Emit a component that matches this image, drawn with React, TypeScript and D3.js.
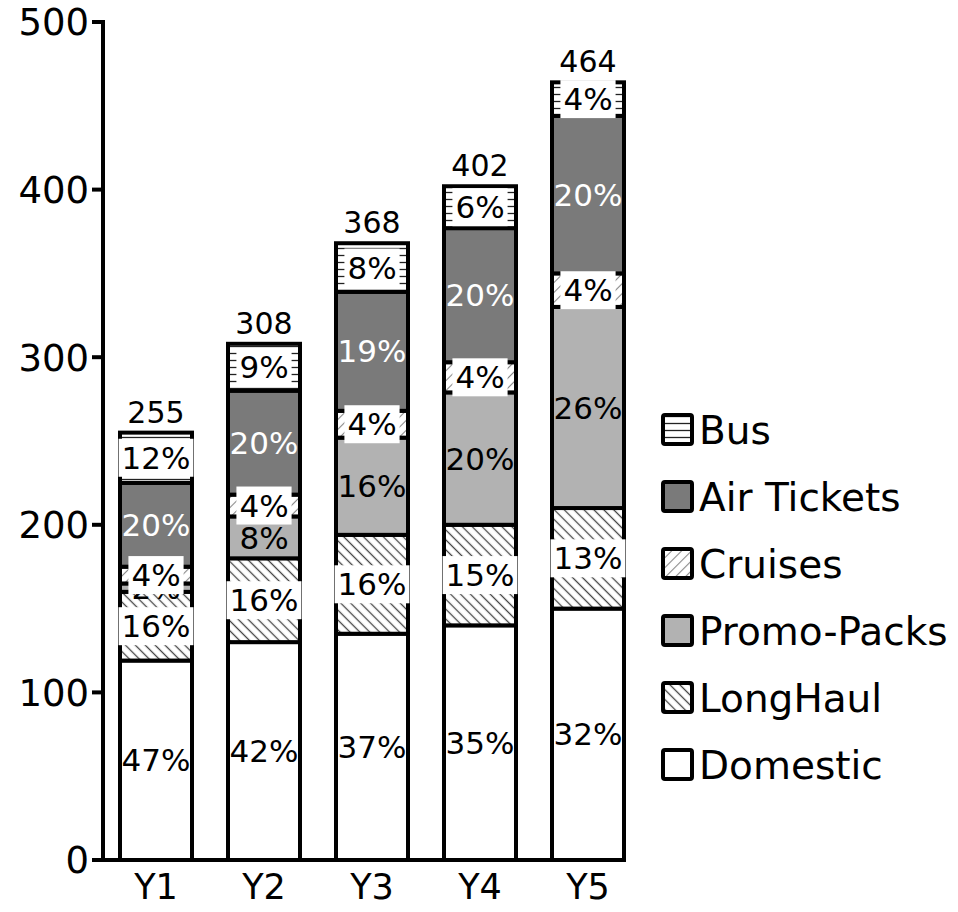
import React from "react";
import * as d3 from "d3";

const categories = ["Y1", "Y2", "Y3", "Y4", "Y5"];
const seriesNames = ["Domestic", "LongHaul", "Promo-Packs", "Cruises", "Air Tickets", "Bus"];
const domestic = [119, 130, 135, 140, 150];
const longHaul = [41, 50, 59, 60, 60];
const promoPacks = [5, 25, 58, 79, 120];
const cruises = [10, 13, 16, 18, 20];
const airTickets = [50, 62, 71, 80, 94];
const bus = [30, 28, 29, 25, 20];
const yTicks = [0, 100, 200, 300, 400, 500];

const seriesValues = [domestic, longHaul, promoPacks, cruises, airTickets, bus];

const W = 958;
const H = 912;
const FONT = "'DejaVu Sans', Verdana, sans-serif";

// fill, whether the label sits on a white box, and label colour per series
const fills = ["#ffffff", "url(#pLong)", "#b2b2b2", "url(#pCruise)", "#7a7a7a", "url(#pBus)"];
const boxed = [false, true, false, true, false, true];
const labelColor = ["#000", "#000", "#000", "#000", "#fff", "#000"];

export default function App() {
  const rows = categories.map((c, i) => {
    const r: any = { cat: c };
    seriesNames.forEach((s, k) => (r[s] = seriesValues[k][i]));
    return r;
  });
  const totals = categories.map((_, i) => seriesValues.reduce((a, s) => a + s[i], 0));
  const stacked = d3.stack().keys(seriesNames)(rows);

  const x = d3.scaleBand().domain(categories).range([102, 642]).paddingInner(1 / 3).paddingOuter(1 / 6);
  const y = d3.scaleLinear().domain([0, 500]).range([860, 22]);

  const pctFont = 31;
  const textW = (s: string) =>
    s.split("").reduce((a, ch) => a + (ch === "%" ? 0.95 : 0.636), 0) * pctFont;

  const legendOrder = [5, 4, 3, 2, 1, 0];

  return (
    <svg width={W} height={H} style={{ position: "absolute", left: 0, top: 0, background: "#fff" }}>
      <defs>
        <pattern id="pLong" patternUnits="userSpaceOnUse" width="7" height="7" patternTransform="rotate(45)">
          <rect width="7" height="7" fill="#fff" />
          <line x1="0" y1="3.5" x2="7" y2="3.5" stroke="#444" strokeWidth="1.3" />
        </pattern>
        <pattern id="pCruise" patternUnits="userSpaceOnUse" width="7" height="7" patternTransform="rotate(-45)">
          <rect width="7" height="7" fill="#fff" />
          <line x1="0" y1="3.5" x2="7" y2="3.5" stroke="#888" strokeWidth="1.1" />
        </pattern>
        <pattern id="pBus" patternUnits="userSpaceOnUse" width="8" height="7">
          <rect width="8" height="7" fill="#fff" />
          <line x1="0" y1="3.5" x2="8" y2="3.5" stroke="#222" strokeWidth="1.3" />
        </pattern>
      </defs>

      {/* bar segments */}
      {stacked.map((layer, k) => (
        <g key={seriesNames[k]}>
          {layer.map((d, i) => (
            <rect
              key={i}
              x={x(categories[i])}
              y={y(d[1])}
              width={x.bandwidth()}
              height={y(d[0]) - y(d[1])}
              fill={fills[k]}
              stroke="#000"
              strokeWidth={4}
            />
          ))}
        </g>
      ))}

      {/* segment percentage labels */}
      {stacked.map((layer, k) => (
        <g key={"lab" + seriesNames[k]}>
          {layer.map((d, i) => {
            const pct = Math.round(((d[1] - d[0]) / totals[i]) * 100) + "%";
            const cx = (x(categories[i]) as number) + x.bandwidth() / 2;
            const cy = (y(d[0]) + y(d[1])) / 2;
            const tw = textW(pct);
            return (
              <g key={i}>
                {boxed[k] && (
                  <rect x={cx - tw / 2 - 3} y={cy - 19} width={tw + 6} height={38} fill="#fff" />
                )}
                <text
                  x={cx}
                  y={cy}
                  dy="0.36em"
                  textAnchor="middle"
                  fontFamily={FONT}
                  fontSize={pctFont}
                  fill={labelColor[k]}
                >
                  {pct}
                </text>
              </g>
            );
          })}
        </g>
      ))}

      {/* totals above bars */}
      {totals.map((t, i) => (
        <text
          key={"t" + i}
          x={(x(categories[i]) as number) + x.bandwidth() / 2}
          y={y(t) - 10}
          textAnchor="middle"
          fontFamily={FONT}
          fontSize={30}
        >
          {t}
        </text>
      ))}

      {/* y axis */}
      <line x1={103} x2={103} y1={y(500) - 2} y2={y(0) + 2} stroke="#000" strokeWidth={4} />
      {yTicks.map((t) => (
        <g key={"yt" + t}>
          <line x1={92} x2={103} y1={y(t)} y2={y(t)} stroke="#000" strokeWidth={4} />
          <text x={89} y={y(t)} dy="0.36em" textAnchor="end" fontFamily={FONT} fontSize={37}>
            {t}
          </text>
        </g>
      ))}

      {/* x axis */}
      <line x1={92} x2={(x("Y5") as number) + x.bandwidth() + 2} y1={y(0)} y2={y(0)} stroke="#000" strokeWidth={4} />
      {categories.map((c) => (
        <text
          key={"xc" + c}
          x={(x(c) as number) + x.bandwidth() / 2}
          y={899}
          textAnchor="middle"
          fontFamily={FONT}
          fontSize={35}
        >
          {c}
        </text>
      ))}

      {/* legend */}
      {legendOrder.map((k, j) => {
        const cy = 430 + j * 67;
        return (
          <g key={"lg" + k}>
            <rect x={663} y={cy - 15} width={29} height={29} rx={2} fill={fills[k]} stroke="#000" strokeWidth={4} />
            <text x={699} y={cy} dy="0.36em" fontFamily={FONT} fontSize={39}>
              {seriesNames[k]}
            </text>
          </g>
        );
      })}
    </svg>
  );
}
